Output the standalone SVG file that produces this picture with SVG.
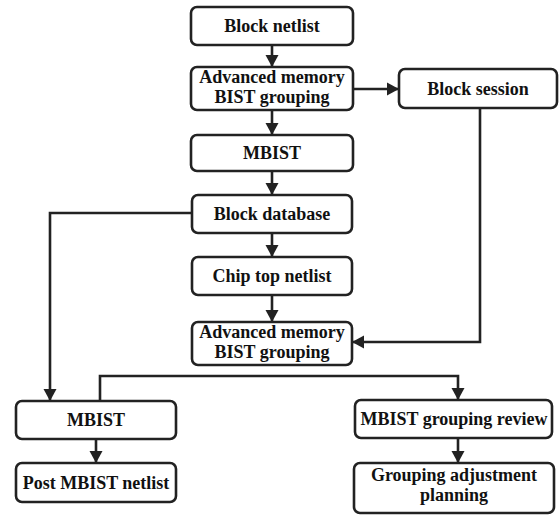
<svg xmlns="http://www.w3.org/2000/svg" width="559" height="515" viewBox="0 0 559 515">
<style>
.box{fill:#fff;stroke:#222;stroke-width:2.6}
.t{font-family:"Liberation Serif","Times New Roman",serif;font-weight:bold;font-size:18px;fill:#111;text-anchor:middle}
.c{fill:none;stroke:#222;stroke-width:2.6}
</style>
<defs>
<marker id="ah" markerUnits="userSpaceOnUse" markerWidth="14" markerHeight="14" refX="12" refY="7" orient="auto">
<path d="M0,0.5 L12,7 L0,13.5 Z" fill="#222"/>
</marker>
</defs>
<rect width="559" height="515" fill="#fff"/>
<g id="connectors">
<path class="c" d="M272,45 V67" marker-end="url(#ah)"/>
<path class="c" d="M272,110 V135" marker-end="url(#ah)"/>
<path class="c" d="M353,89 H399" marker-end="url(#ah)"/>
<path class="c" d="M272,171 V195" marker-end="url(#ah)"/>
<path class="c" d="M272,233 V257" marker-end="url(#ah)"/>
<path class="c" d="M272,295 V322" marker-end="url(#ah)"/>
<path class="c" d="M480,108 V342 H352" marker-end="url(#ah)"/>
<path class="c" d="M192,213 H50 V401" marker-end="url(#ah)"/>
<path class="c" d="M100,401 V376 H458 V400" marker-end="url(#ah)"/>
<path class="c" d="M96,439 V463" marker-end="url(#ah)"/>
<path class="c" d="M458,438 V463" marker-end="url(#ah)"/>
</g>
<g id="block-netlist">
<rect class="box" x="191" y="7" width="162" height="38" rx="6"/>
<text class="t" x="272" y="32">Block netlist</text>
</g>
<g id="amb-grouping-1">
<rect class="box" x="191" y="67" width="162" height="43" rx="6"/>
<text class="t" x="272" y="83">Advanced memory</text>
<text class="t" x="272" y="103">BIST grouping</text>
</g>
<g id="block-session">
<rect class="box" x="399" y="69" width="158" height="39" rx="6"/>
<text class="t" x="478" y="95">Block session</text>
</g>
<g id="mbist-1">
<rect class="box" x="191" y="135" width="162" height="36" rx="6"/>
<text class="t" x="272" y="159">MBIST</text>
</g>
<g id="block-database">
<rect class="box" x="192" y="195" width="160" height="38" rx="6"/>
<text class="t" x="272" y="220">Block database</text>
</g>
<g id="chip-top-netlist">
<rect class="box" x="192" y="257" width="160" height="38" rx="6"/>
<text class="t" x="272" y="282">Chip top netlist</text>
</g>
<g id="amb-grouping-2">
<rect class="box" x="192" y="322" width="160" height="43" rx="6"/>
<text class="t" x="272" y="338">Advanced memory</text>
<text class="t" x="272" y="358">BIST grouping</text>
</g>
<g id="mbist-2">
<rect class="box" x="16" y="401" width="160" height="38" rx="6"/>
<text class="t" x="96" y="426">MBIST</text>
</g>
<g id="post-mbist-netlist">
<rect class="box" x="16" y="463" width="160" height="39" rx="6"/>
<text class="t" x="96" y="489">Post MBIST netlist</text>
</g>
<g id="mbist-grouping-review">
<rect class="box" x="355" y="400" width="197" height="38" rx="6"/>
<text class="t" x="454" y="425">MBIST grouping review</text>
</g>
<g id="grouping-adjustment-planning">
<rect class="box" x="354" y="463" width="200" height="50" rx="6"/>
<text class="t" x="454" y="481">Grouping adjustment</text>
<text class="t" x="454" y="501">planning</text>
</g>
</svg>
